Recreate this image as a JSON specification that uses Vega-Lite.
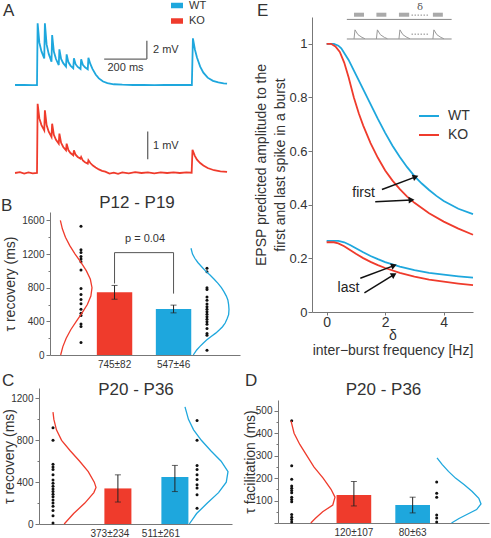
{
"$schema":"https://vega.github.io/schema/vega-lite/v6.json",
"width":491,"height":538,
"autosize":{"type":"none"},
"padding":0,
"config":{
 "view":{"stroke":null},
 "font":"Liberation Sans",
 "axis":{"grid":false,"domainColor":"#777","tickColor":"#777","labelColor":"#333","titleColor":"#333","titleFontWeight":"normal","labelFontSize":10,"titleFontSize":14,"tickSize":4,"labelPadding":2,"titlePadding":2},
 "text":{"color":"#333"},
 "legend":{"labelColor":"#333","title":null,"padding":0}
},
"resolve":{"scale":{"x":"independent","y":"independent","color":"independent"}},
"layer":[
 {"encoding":{"x":{"type":"quantitative","scale":{"domain":[0,1000],"range":[37,250.3],"nice":false,"zero":false},"axis":null},
              "y":{"type":"quantitative","scale":{"domain":[0,7],"range":[85,20.83],"nice":false,"zero":false},"axis":null}},
  "layer":[
   {"data":{"values":[{"t":-103,"v":0},{"t":-60,"v":0.02},{"t":-20,"v":-0.01},{"t":0,"v":0},{"t":3,"v":6.73},{"t":11,"v":4.62},{"t":21,"v":3.67},{"t":34,"v":2.9},{"t":37,"v":6.73},{"t":45,"v":4.43},{"t":55,"v":3.39},{"t":68,"v":2.55},{"t":71,"v":5.45},{"t":79,"v":3.65},{"t":89,"v":2.83},{"t":102,"v":2.18},{"t":105,"v":3.89},{"t":113,"v":2.85},{"t":123,"v":2.38},{"t":136,"v":2.0},{"t":139,"v":3.34},{"t":147,"v":2.5},{"t":157,"v":2.12},{"t":170,"v":1.82},{"t":173,"v":2.91},{"t":181,"v":2.27},{"t":191,"v":1.97},{"t":204,"v":1.74},{"t":207,"v":2.8},{"t":215,"v":2.2},{"t":225,"v":1.93},{"t":238,"v":1.71},{"t":241,"v":2.98},{"t":250,"v":2.3},{"t":260,"v":1.75},{"t":275,"v":1.15},{"t":290,"v":0.72},{"t":310,"v":0.38},{"t":330,"v":0.2},{"t":360,"v":0.08},{"t":400,"v":0.03},{"t":450,"v":0},{"t":500,"v":0.02},{"t":550,"v":-0.02},{"t":600,"v":0.01},{"t":650,"v":0},{"t":700,"v":0.02},{"t":726,"v":0},{"t":731,"v":5.09},{"t":740,"v":3.9},{"t":750,"v":3.0},{"t":765,"v":2.0},{"t":780,"v":1.35},{"t":800,"v":0.8},{"t":825,"v":0.45},{"t":850,"v":0.28},{"t":875,"v":0.18},{"t":891,"v":0.14}]},
    "mark":{"type":"line","strokeWidth":1.8},
    "encoding":{"x":{"field":"t"},"y":{"field":"v"},
     "color":{"datum":"WT","type":"nominal","scale":{"domain":["WT","KO"],"range":["#1EA7DD","#EF3B2C"]},"legend":{"orient":"none","legendX":168,"legendY":-2,"symbolType":"stroke","symbolSize":144,"symbolStrokeWidth":5.5,"labelFontSize":11,"rowPadding":0.5,"clipHeight":15,"labelOffset":3}}}},
   {"data":{"values":[{"bar":"200 ms"}]},"mark":{"type":"rule","color":"#666","strokeWidth":1.3},"encoding":{"x":{"datum":315},"x2":{"datum":515},"y":{"datum":2.83}}},
   {"data":{"values":[{"bar":"2 mV"}]},"mark":{"type":"rule","color":"#666","strokeWidth":1.3},"encoding":{"x":{"datum":515},"y":{"datum":2.83},"y2":{"datum":4.83}}},
   {"data":{"values":[{"lab":"2 mV"}]},"mark":{"type":"text","fontSize":11,"align":"left","baseline":"middle"},"encoding":{"x":{"datum":544},"y":{"datum":3.83},"text":{"field":"lab"}}},
   {"data":{"values":[{"lab":"200 ms"}]},"mark":{"type":"text","fontSize":11,"align":"center","baseline":"middle"},"encoding":{"x":{"datum":415},"y":{"datum":1.85},"text":{"field":"lab"}}},
   {"data":{"values":[{"lab":"A"}]},"mark":{"type":"text","fontSize":17,"align":"left","baseline":"middle"},"encoding":{"x":{"datum":-159},"y":{"datum":8.07},"text":{"field":"lab"}}}
  ]},
 {"encoding":{"x":{"type":"quantitative","scale":{"domain":[0,1000],"range":[37,250.3],"nice":false,"zero":false},"axis":null},
              "y":{"type":"quantitative","scale":{"domain":[0,1],"range":[173,145.3],"nice":false,"zero":false},"axis":null}},
  "layer":[
   {"data":{"values":[{"t":-103,"v":0},{"t":-80,"v":0.03},{"t":-60,"v":-0.02},{"t":-40,"v":0.02},{"t":-20,"v":-0.01},{"t":0,"v":0},{"t":3,"v":2.5},{"t":11,"v":1.97},{"t":21,"v":1.73},{"t":34,"v":1.54},{"t":37,"v":2.26},{"t":45,"v":1.73},{"t":55,"v":1.49},{"t":68,"v":1.3},{"t":71,"v":1.78},{"t":79,"v":1.38},{"t":89,"v":1.2},{"t":102,"v":1.06},{"t":105,"v":1.42},{"t":113,"v":1.09},{"t":123,"v":0.94},{"t":136,"v":0.82},{"t":139,"v":1.06},{"t":147,"v":0.83},{"t":157,"v":0.72},{"t":170,"v":0.64},{"t":173,"v":0.82},{"t":181,"v":0.66},{"t":191,"v":0.58},{"t":204,"v":0.52},{"t":207,"v":0.58},{"t":215,"v":0.45},{"t":225,"v":0.39},{"t":238,"v":0.34},{"t":241,"v":0.46},{"t":250,"v":0.36},{"t":262,"v":0.27},{"t":275,"v":0.2},{"t":290,"v":0.13},{"t":305,"v":0.08},{"t":320,"v":0.05},{"t":340,"v":-0.02},{"t":360,"v":0.01},{"t":380,"v":-0.03},{"t":400,"v":0.02},{"t":430,"v":-0.01},{"t":460,"v":0.03},{"t":490,"v":0},{"t":520,"v":0.02},{"t":550,"v":-0.01},{"t":580,"v":0.02},{"t":610,"v":0},{"t":640,"v":0.02},{"t":670,"v":0},{"t":700,"v":0.02},{"t":725,"v":0.01},{"t":729,"v":0.84},{"t":740,"v":0.62},{"t":750,"v":0.48},{"t":765,"v":0.36},{"t":780,"v":0.27},{"t":800,"v":0.18},{"t":830,"v":0.1},{"t":860,"v":0.06},{"t":891,"v":0.04}]},
    "mark":{"type":"line","strokeWidth":1.8},
    "encoding":{"x":{"field":"t"},"y":{"field":"v"},"color":{"datum":"KO","type":"nominal","scale":{"domain":["WT","KO"],"range":["#1EA7DD","#EF3B2C"]},"legend":null}}},
   {"data":{"values":[{"bar":"1 mV"}]},"mark":{"type":"rule","color":"#666","strokeWidth":1.3},"encoding":{"x":{"datum":519},"y":{"datum":0.5},"y2":{"datum":1.5}}},
   {"data":{"values":[{"lab":"1 mV"}]},"mark":{"type":"text","fontSize":11,"align":"left","baseline":"middle"},"encoding":{"x":{"datum":544},"y":{"datum":0.97},"text":{"field":"lab"}}}
  ]},

 {"data":{"values":[{"g":"KO","m":745,"lo":663,"hi":827,"lab":"745±82"},{"g":"WT","m":547,"lo":501,"hi":593,"lab":"547±46"}]},
  "encoding":{"x":{"field":"g","type":"nominal","scale":{"type":"band","domain":["KO","WT"],"range":[50,240],"paddingInner":0.4,"paddingOuter":0.81,"align":0.49},"axis":{"orient":"bottom","offset":-183,"title":null,"labels":false,"ticks":false}},
              "y":{"field":"m","type":"quantitative","title":"τ recovery (ms)","scale":{"domain":[0,1700],"range":[355,212],"nice":false},"axis":{"orient":"left","offset":-50,"format":"d","titlePadding":4,"values":[0,200,400,600,800,1000,1200,1400,1600],"labelExpr":"datum.value % 400 === 0 ? datum.label : ''","tickSize":{"condition":{"test":"datum.value % 400 === 0","value":4},"value":2}}}},
  "layer":[
   {"mark":{"type":"bar"},"encoding":{"color":{"condition":{"test":"datum.g === 'KO'","value":"#EF3B2C"},"value":"#1EA7DD"}}},
   {"mark":{"type":"rule","color":"#222","strokeWidth":1},"encoding":{"y":{"field":"lo","type":"quantitative","title":"τ recovery (ms)"},"y2":{"field":"hi"}}},
   {"mark":{"type":"tick","color":"#222","thickness":1,"size":6},"encoding":{"y":{"field":"lo","type":"quantitative","title":"τ recovery (ms)"}}},
   {"mark":{"type":"tick","color":"#222","thickness":1,"size":6},"encoding":{"y":{"field":"hi","type":"quantitative","title":"τ recovery (ms)"}}},
   {"mark":{"type":"text","fontSize":10,"baseline":"top","dy":5},"encoding":{"y":{"datum":0},"text":{"field":"lab"}}},
   {"data":{"values":[{"g":"KO","y":850,"o":1},{"g":"KO","y":1217,"o":2},{"g":"WT","y":1217,"o":3},{"g":"WT","y":730,"o":4}]},"mark":{"type":"line","color":"#555","strokeWidth":1},"encoding":{"y":{"field":"y","type":"quantitative","title":"τ recovery (ms)"},"order":{"field":"o"}}}
  ]},
 {"data":{"values":[{"g":"KO","tau":1530},{"g":"KO","tau":1250},{"g":"KO","tau":1220},{"g":"KO","tau":1170},{"g":"KO","tau":1140},{"g":"KO","tau":1110},{"g":"KO","tau":1010},{"g":"KO","tau":790},{"g":"KO","tau":720},{"g":"KO","tau":660},{"g":"KO","tau":610},{"g":"KO","tau":545},{"g":"KO","tau":495},{"g":"KO","tau":470},{"g":"KO","tau":370},{"g":"KO","tau":340},{"g":"KO","tau":150},{"g":"WT","tau":1030},{"g":"WT","tau":990},{"g":"WT","tau":800},{"g":"WT","tau":780},{"g":"WT","tau":690},{"g":"WT","tau":650},{"g":"WT","tau":605},{"g":"WT","tau":575},{"g":"WT","tau":545},{"g":"WT","tau":515},{"g":"WT","tau":485},{"g":"WT","tau":455},{"g":"WT","tau":425},{"g":"WT","tau":395},{"g":"WT","tau":365},{"g":"WT","tau":315},{"g":"WT","tau":255},{"g":"WT","tau":235},{"g":"WT","tau":55}]},
  "mark":{"type":"circle","size":9,"color":"#111","opacity":1},
  "encoding":{"x":{"field":"g","type":"nominal","scale":{"type":"point","domain":["KO","WT"],"range":[50,240],"padding":0.254,"align":0.484},"axis":null},
              "y":{"field":"tau","type":"quantitative","scale":{"domain":[0,1700],"range":[355,212],"nice":false},"axis":null}}},
 {"encoding":{"x":{"type":"quantitative","scale":{"domain":[0,1],"range":[58,92],"nice":false,"zero":false},"axis":null},
              "y":{"type":"quantitative","scale":{"domain":[0,1700],"range":[355,212],"nice":false},"axis":null}},
  "layer":[
   {"data":{"values":[{"tau":0,"d":0.078},{"tau":100,"d":0.143},{"tau":200,"d":0.241},{"tau":300,"d":0.375},{"tau":400,"d":0.538},{"tau":500,"d":0.709},{"tau":600,"d":0.863},{"tau":700,"d":0.967},{"tau":800,"d":1.0},{"tau":900,"d":0.952},{"tau":1000,"d":0.835},{"tau":1100,"d":0.676},{"tau":1200,"d":0.503},{"tau":1300,"d":0.346},{"tau":1400,"d":0.219},{"tau":1500,"d":0.128},{"tau":1600,"d":0.069}]},
    "mark":{"type":"line","color":"#EF3B2C","strokeWidth":1.3},"encoding":{"x":{"field":"d"},"y":{"field":"tau"},"order":{"field":"tau"}}},
   {"data":{"values":[{"lab":"B"}]},"mark":{"type":"text","fontSize":17,"align":"left","baseline":"middle"},"encoding":{"x":{"datum":-1.676},"y":{"datum":1772},"text":{"field":"lab"}}},
   {"data":{"values":[{"lab":"P12 - P19"}]},"mark":{"type":"text","fontSize":17,"align":"center","baseline":"middle"},"encoding":{"x":{"datum":2.324},"y":{"datum":1807},"text":{"field":"lab"}}},
   {"data":{"values":[{"lab":"p = 0.04"}]},"mark":{"type":"text","fontSize":11,"align":"center","baseline":"middle"},"encoding":{"x":{"datum":2.559},"y":{"datum":1376},"text":{"field":"lab"}}}
  ]},
 {"data":{"values":[{"tau":0,"d":0.06},{"tau":60,"d":0.15},{"tau":100,"d":0.23},{"tau":140,"d":0.32},{"tau":178,"d":0.41},{"tau":220,"d":0.53},{"tau":260,"d":0.65},{"tau":300,"d":0.75},{"tau":336,"d":0.83},{"tau":380,"d":0.9},{"tau":430,"d":0.95},{"tau":480,"d":0.99},{"tau":540,"d":1.0},{"tau":600,"d":0.99},{"tau":654,"d":0.97},{"tau":700,"d":0.93},{"tau":750,"d":0.87},{"tau":800,"d":0.8},{"tau":852,"d":0.71},{"tau":900,"d":0.61},{"tau":950,"d":0.5},{"tau":1000,"d":0.38},{"tau":1049,"d":0.28},{"tau":1100,"d":0.18},{"tau":1150,"d":0.1},{"tau":1200,"d":0.04},{"tau":1269,"d":0.0}]},
  "mark":{"type":"line","color":"#1EA7DD","strokeWidth":1.3},
  "encoding":{"x":{"field":"d","type":"quantitative","scale":{"domain":[0,1],"range":[191,229],"nice":false,"zero":false},"axis":null},
              "y":{"field":"tau","type":"quantitative","scale":{"domain":[0,1700],"range":[355,212],"nice":false},"axis":null},
              "order":{"field":"tau"}}},

 {"data":{"values":[{"g":"KO","m":340,"lo":210,"hi":470,"lab":"373±234"},{"g":"WT","m":450,"lo":310,"hi":560,"lab":"511±261"}]},
  "encoding":{"x":{"field":"g","type":"nominal","scale":{"type":"band","domain":["KO","WT"],"range":[39,232],"paddingInner":0.526,"paddingOuter":0.956,"align":0.6},"axis":{"orient":"bottom","offset":-14,"title":null,"labels":false,"ticks":false}},
              "y":{"field":"m","type":"quantitative","title":"τ recovery (ms)","scale":{"domain":[0,1300],"range":[524,388],"nice":false},"axis":{"orient":"left","offset":-39,"format":"d","titlePadding":-6,"values":[0,200,400,600,800,1000,1200],"labelExpr":"datum.value % 400 === 0 ? datum.label : ''","tickSize":{"condition":{"test":"datum.value % 400 === 0","value":4},"value":2}}}},
  "layer":[
   {"mark":{"type":"bar"},"encoding":{"color":{"condition":{"test":"datum.g === 'KO'","value":"#EF3B2C"},"value":"#1EA7DD"}}},
   {"mark":{"type":"rule","color":"#222","strokeWidth":1},"encoding":{"y":{"field":"lo","type":"quantitative","title":"τ recovery (ms)"},"y2":{"field":"hi"}}},
   {"mark":{"type":"tick","color":"#222","thickness":1,"size":6},"encoding":{"y":{"field":"lo","type":"quantitative","title":"τ recovery (ms)"}}},
   {"mark":{"type":"tick","color":"#222","thickness":1,"size":6},"encoding":{"y":{"field":"hi","type":"quantitative","title":"τ recovery (ms)"}}},
   {"transform":[{"filter":"datum.g === 'KO'"}],"mark":{"type":"text","fontSize":10,"baseline":"top","dy":5,"dx":-8},"encoding":{"y":{"datum":0},"text":{"field":"lab"}}},
   {"transform":[{"filter":"datum.g === 'WT'"}],"mark":{"type":"text","fontSize":10,"baseline":"top","dy":5,"dx":-14},"encoding":{"y":{"datum":0},"text":{"field":"lab"}}}
  ]},
 {"data":{"values":[{"g":"KO","tau":920},{"g":"KO","tau":800},{"g":"KO","tau":570},{"g":"KO","tau":545},{"g":"KO","tau":520},{"g":"KO","tau":470},{"g":"KO","tau":420},{"g":"KO","tau":390},{"g":"KO","tau":360},{"g":"KO","tau":335},{"g":"KO","tau":310},{"g":"KO","tau":285},{"g":"KO","tau":260},{"g":"KO","tau":230},{"g":"KO","tau":200},{"g":"KO","tau":170},{"g":"KO","tau":130},{"g":"KO","tau":80},{"g":"KO","tau":10},{"g":"WT","tau":990},{"g":"WT","tau":800},{"g":"WT","tau":560},{"g":"WT","tau":520},{"g":"WT","tau":470},{"g":"WT","tau":425},{"g":"WT","tau":375},{"g":"WT","tau":345},{"g":"WT","tau":280},{"g":"WT","tau":150}]},
  "mark":{"type":"circle","size":9,"color":"#111","opacity":1},
  "encoding":{"x":{"field":"g","type":"nominal","scale":{"type":"point","domain":["KO","WT"],"range":[39,232],"padding":0.17,"align":0.286},"axis":null},
              "y":{"field":"tau","type":"quantitative","scale":{"domain":[0,1300],"range":[524,388],"nice":false},"axis":null}}},
 {"encoding":{"x":{"type":"quantitative","scale":{"domain":[0,1],"range":[53,96],"nice":false,"zero":false},"axis":null},
              "y":{"type":"quantitative","scale":{"domain":[0,1300],"range":[524,388],"nice":false},"axis":null}},
  "layer":[
   {"data":{"values":[{"tau":0,"d":0.26},{"tau":100,"d":0.48},{"tau":200,"d":0.74},{"tau":300,"d":0.95},{"tau":350,"d":1.0},{"tau":400,"d":0.96},{"tau":500,"d":0.82},{"tau":600,"d":0.62},{"tau":700,"d":0.4},{"tau":800,"d":0.2},{"tau":900,"d":0.08},{"tau":1000,"d":0.02},{"tau":1070,"d":0.0}]},
    "mark":{"type":"line","color":"#EF3B2C","strokeWidth":1.3},"encoding":{"x":{"field":"d"},"y":{"field":"tau"},"order":{"field":"tau"}}},
   {"data":{"values":[{"lab":"C"}]},"mark":{"type":"text","fontSize":17,"align":"left","baseline":"middle"},"encoding":{"x":{"datum":-1.186},"y":{"datum":1367},"text":{"field":"lab"}}},
   {"data":{"values":[{"lab":"P20 - P36"}]},"mark":{"type":"text","fontSize":17,"align":"center","baseline":"middle"},"encoding":{"x":{"datum":1.93},"y":{"datum":1281},"text":{"field":"lab"}}}
  ]},
 {"data":{"values":[{"tau":0,"d":0.1},{"tau":100,"d":0.27},{"tau":200,"d":0.52},{"tau":300,"d":0.78},{"tau":400,"d":0.96},{"tau":500,"d":1.0},{"tau":600,"d":0.84},{"tau":700,"d":0.6},{"tau":800,"d":0.38},{"tau":900,"d":0.2},{"tau":1000,"d":0.08},{"tau":1120,"d":0.0}]},
  "mark":{"type":"line","color":"#1EA7DD","strokeWidth":1.3},
  "encoding":{"x":{"field":"d","type":"quantitative","scale":{"domain":[0,1],"range":[185,228],"nice":false,"zero":false},"axis":null},
              "y":{"field":"tau","type":"quantitative","scale":{"domain":[0,1300],"range":[524,388],"nice":false},"axis":null},
              "order":{"field":"tau"}}},

 {"data":{"values":[{"g":"KO","m":125,"lo":76,"hi":185,"lab":"120±107"},{"g":"WT","m":80,"lo":45,"hi":115,"lab":"80±63"}]},
  "encoding":{"x":{"field":"g","type":"nominal","scale":{"type":"band","domain":["KO","WT"],"range":[278,489],"paddingInner":0.41,"paddingOuter":1.2145,"align":0.498},"axis":{"orient":"bottom","offset":-15,"title":null,"labels":false,"ticks":false}},
              "y":{"field":"m","type":"quantitative","title":"τ facilitation (ms)","scale":{"domain":[0,548],"range":[523,400],"nice":false},"axis":{"orient":"left","offset":-278,"format":"d","titlePadding":-2,"values":[0,50,100,150,200,250,300,350,400,450,500],"labelExpr":"datum.value % 100 === 0 && datum.value > 0 ? datum.label : ''","tickSize":{"condition":{"test":"datum.value % 100 === 0","value":4},"value":2}}}},
  "layer":[
   {"mark":{"type":"bar"},"encoding":{"color":{"condition":{"test":"datum.g === 'KO'","value":"#EF3B2C"},"value":"#1EA7DD"}}},
   {"mark":{"type":"rule","color":"#222","strokeWidth":1},"encoding":{"y":{"field":"lo","type":"quantitative","title":"τ facilitation (ms)"},"y2":{"field":"hi"}}},
   {"mark":{"type":"tick","color":"#222","thickness":1,"size":6},"encoding":{"y":{"field":"lo","type":"quantitative","title":"τ facilitation (ms)"}}},
   {"mark":{"type":"tick","color":"#222","thickness":1,"size":6},"encoding":{"y":{"field":"hi","type":"quantitative","title":"τ facilitation (ms)"}}},
   {"mark":{"type":"text","fontSize":10,"baseline":"top","dy":5},"encoding":{"y":{"datum":0},"text":{"field":"lab"}}}
  ]},
 {"data":{"values":[{"g":"KO","tau":455},{"g":"KO","tau":255},{"g":"KO","tau":195},{"g":"KO","tau":165},{"g":"KO","tau":155},{"g":"KO","tau":145},{"g":"KO","tau":135},{"g":"KO","tau":115},{"g":"KO","tau":105},{"g":"KO","tau":95},{"g":"KO","tau":38},{"g":"KO","tau":26},{"g":"KO","tau":16},{"g":"KO","tau":5},{"g":"WT","tau":183},{"g":"WT","tau":133},{"g":"WT","tau":115},{"g":"WT","tau":36},{"g":"WT","tau":22},{"g":"WT","tau":5}]},
  "mark":{"type":"circle","size":9,"color":"#111","opacity":1},
  "encoding":{"x":{"field":"g","type":"nominal","scale":{"type":"point","domain":["KO","WT"],"range":[278,489],"padding":0.2276,"align":0.2076},"axis":null},
              "y":{"field":"tau","type":"quantitative","scale":{"domain":[0,548],"range":[523,400],"nice":false},"axis":null}}},
 {"encoding":{"x":{"type":"quantitative","scale":{"domain":[0,1],"range":[291,335],"nice":false,"zero":false},"axis":null},
              "y":{"type":"quantitative","scale":{"domain":[0,548],"range":[523,400],"nice":false},"axis":null}},
  "layer":[
   {"data":{"values":[{"tau":0,"d":0.45},{"tau":20,"d":0.55},{"tau":50,"d":0.72},{"tau":80,"d":0.95},{"tau":115,"d":1.0},{"tau":150,"d":0.91},{"tau":200,"d":0.73},{"tau":250,"d":0.52},{"tau":300,"d":0.36},{"tau":350,"d":0.2},{"tau":400,"d":0.07},{"tau":455,"d":0.0}]},
    "mark":{"type":"line","color":"#EF3B2C","strokeWidth":1.3},"encoding":{"x":{"field":"d"},"y":{"field":"tau"},"order":{"field":"tau"}}},
   {"data":{"values":[{"lab":"D"}]},"mark":{"type":"text","fontSize":17,"align":"left","baseline":"middle"},"encoding":{"x":{"datum":-1.045},"y":{"datum":633},"text":{"field":"lab"}}},
   {"data":{"values":[{"lab":"P20 - P36"}]},"mark":{"type":"text","fontSize":17,"align":"center","baseline":"middle"},"encoding":{"x":{"datum":2.102},"y":{"datum":593},"text":{"field":"lab"}}}
  ]},
 {"data":{"values":[{"tau":0,"d":0.33},{"tau":20,"d":0.5},{"tau":40,"d":0.7},{"tau":60,"d":0.9},{"tau":85,"d":1.0},{"tau":110,"d":0.95},{"tau":140,"d":0.8},{"tau":170,"d":0.62},{"tau":200,"d":0.42},{"tau":230,"d":0.26},{"tau":260,"d":0.12},{"tau":290,"d":0.0}]},
  "mark":{"type":"line","color":"#1EA7DD","strokeWidth":1.3},
  "encoding":{"x":{"field":"d","type":"quantitative","scale":{"domain":[0,1],"range":[437,481],"nice":false,"zero":false},"axis":null},
              "y":{"field":"tau","type":"quantitative","scale":{"domain":[0,548],"range":[523,400],"nice":false},"axis":null},
              "order":{"field":"tau"}}},

 {"encoding":{"x":{"type":"quantitative","scale":{"domain":[-0.5,5],"range":[312,473],"nice":false,"zero":false}},
              "y":{"type":"quantitative","scale":{"domain":[0,1.1],"range":[312,17],"nice":false,"zero":false}}},
  "layer":[
   {"data":{"values":[
     {"geno":"WT","which":"first","f":0,"a":1},{"geno":"WT","which":"first","f":0.25,"a":1},{"geno":"WT","which":"first","f":0.4,"a":0.993},{"geno":"WT","which":"first","f":0.5,"a":0.983},{"geno":"WT","which":"first","f":0.75,"a":0.94},{"geno":"WT","which":"first","f":1.0,"a":0.885},{"geno":"WT","which":"first","f":1.25,"a":0.83},{"geno":"WT","which":"first","f":1.5,"a":0.775},{"geno":"WT","which":"first","f":1.75,"a":0.72},{"geno":"WT","which":"first","f":2.0,"a":0.668},{"geno":"WT","which":"first","f":2.25,"a":0.62},{"geno":"WT","which":"first","f":2.5,"a":0.578},{"geno":"WT","which":"first","f":2.75,"a":0.54},{"geno":"WT","which":"first","f":3.0,"a":0.507},{"geno":"WT","which":"first","f":3.25,"a":0.479},{"geno":"WT","which":"first","f":3.5,"a":0.455},{"geno":"WT","which":"first","f":3.75,"a":0.433},{"geno":"WT","which":"first","f":4.0,"a":0.414},{"geno":"WT","which":"first","f":4.5,"a":0.385},{"geno":"WT","which":"first","f":5.0,"a":0.365},
     {"geno":"KO","which":"first","f":0,"a":1},{"geno":"KO","which":"first","f":0.15,"a":1},{"geno":"KO","which":"first","f":0.3,"a":0.99},{"geno":"KO","which":"first","f":0.45,"a":0.97},{"geno":"KO","which":"first","f":0.6,"a":0.93},{"geno":"KO","which":"first","f":0.75,"a":0.875},{"geno":"KO","which":"first","f":0.93,"a":0.8},{"geno":"KO","which":"first","f":1.1,"a":0.74},{"geno":"KO","which":"first","f":1.25,"a":0.695},{"geno":"KO","which":"first","f":1.5,"a":0.63},{"geno":"KO","which":"first","f":1.75,"a":0.575},{"geno":"KO","which":"first","f":2.0,"a":0.528},{"geno":"KO","which":"first","f":2.25,"a":0.49},{"geno":"KO","which":"first","f":2.5,"a":0.458},{"geno":"KO","which":"first","f":2.75,"a":0.43},{"geno":"KO","which":"first","f":3.0,"a":0.407},{"geno":"KO","which":"first","f":3.5,"a":0.368},{"geno":"KO","which":"first","f":4.0,"a":0.337},{"geno":"KO","which":"first","f":4.5,"a":0.311},{"geno":"KO","which":"first","f":5.0,"a":0.288},
     {"geno":"WT","which":"last","f":0,"a":0.265},{"geno":"WT","which":"last","f":0.4,"a":0.265},{"geno":"WT","which":"last","f":0.6,"a":0.26},{"geno":"WT","which":"last","f":0.8,"a":0.25},{"geno":"WT","which":"last","f":1.0,"a":0.238},{"geno":"WT","which":"last","f":1.25,"a":0.223},{"geno":"WT","which":"last","f":1.5,"a":0.209},{"geno":"WT","which":"last","f":1.75,"a":0.197},{"geno":"WT","which":"last","f":2.0,"a":0.186},{"geno":"WT","which":"last","f":2.5,"a":0.169},{"geno":"WT","which":"last","f":3.0,"a":0.156},{"geno":"WT","which":"last","f":3.5,"a":0.146},{"geno":"WT","which":"last","f":4.0,"a":0.139},{"geno":"WT","which":"last","f":4.5,"a":0.133},{"geno":"WT","which":"last","f":5.0,"a":0.128},
     {"geno":"KO","which":"last","f":0,"a":0.26},{"geno":"KO","which":"last","f":0.25,"a":0.26},{"geno":"KO","which":"last","f":0.4,"a":0.256},{"geno":"KO","which":"last","f":0.6,"a":0.245},{"geno":"KO","which":"last","f":0.8,"a":0.231},{"geno":"KO","which":"last","f":1.0,"a":0.217},{"geno":"KO","which":"last","f":1.25,"a":0.201},{"geno":"KO","which":"last","f":1.5,"a":0.187},{"geno":"KO","which":"last","f":1.75,"a":0.175},{"geno":"KO","which":"last","f":2.0,"a":0.164},{"geno":"KO","which":"last","f":2.5,"a":0.146},{"geno":"KO","which":"last","f":3.0,"a":0.132},{"geno":"KO","which":"last","f":3.5,"a":0.121},{"geno":"KO","which":"last","f":4.0,"a":0.113},{"geno":"KO","which":"last","f":4.5,"a":0.106},{"geno":"KO","which":"last","f":5.0,"a":0.1}]},
    "mark":{"type":"line","strokeWidth":1.8},
    "encoding":{
     "x":{"field":"f","type":"quantitative","axis":{"orient":"bottom","offset":-226,"values":[0,2,4],"format":"d","labelFontSize":14,"tickSize":3,"labelPadding":0,"title":["δ","inter−burst frequency [Hz]"],"titleFontSize":14,"titleLineHeight":15,"titlePadding":-1}},
     "y":{"field":"a","type":"quantitative","axis":{"orient":"left","offset":-312,"values":[0,0.2,0.4,0.6,0.8,1],"format":"~g","labelFontSize":13,"labelPadding":1,"title":["EPSP predicted amplitude to the","first and last spike in a burst"],"titleFontSize":14,"titleLineHeight":19,"titlePadding":1}},
     "color":{"field":"geno","type":"nominal","scale":{"domain":["WT","KO"],"range":["#1EA7DD","#EF3B2C"]},"legend":{"orient":"none","legendX":418,"legendY":108,"symbolType":"stroke","symbolSize":400,"symbolStrokeWidth":2,"labelFontSize":14,"rowPadding":3,"clipHeight":16,"labelOffset":8}},
     "detail":{"field":"which"}}},
   {"data":{"values":[{"x":1.89,"y":0.457,"x2":3.04,"y2":0.504},{"x":1.66,"y":0.411,"x2":2.9,"y2":0.418},{"x":1.15,"y":0.126,"x2":2.3,"y2":0.173},{"x":1.29,"y":0.071,"x2":2.3,"y2":0.139}]},
    "mark":{"type":"rule","color":"#111","strokeWidth":1.5},
    "encoding":{"x":{"field":"x","type":"quantitative"},"y":{"field":"y","type":"quantitative"},"x2":{"field":"x2"},"y2":{"field":"y2"}}},
   {"data":{"values":[{"h":1}]},"mark":{"type":"point","shape":"triangle-right","filled":true,"color":"#111","opacity":1,"size":45,"angle":339.5},"encoding":{"x":{"datum":3.04},"y":{"datum":0.504}}},
   {"data":{"values":[{"h":2}]},"mark":{"type":"point","shape":"triangle-right","filled":true,"color":"#111","opacity":1,"size":45,"angle":357},"encoding":{"x":{"datum":2.9},"y":{"datum":0.418}}},
   {"data":{"values":[{"h":3}]},"mark":{"type":"point","shape":"triangle-right","filled":true,"color":"#111","opacity":1,"size":45,"angle":339.5},"encoding":{"x":{"datum":2.3},"y":{"datum":0.173}}},
   {"data":{"values":[{"h":4}]},"mark":{"type":"point","shape":"triangle-right","filled":true,"color":"#111","opacity":1,"size":45,"angle":328.6},"encoding":{"x":{"datum":2.3},"y":{"datum":0.139}}},
   {"data":{"values":[{"lab":"first","f":1.26,"a":0.442},{"lab":"last","f":0.745,"a":0.088}]},
    "mark":{"type":"text","fontSize":14,"color":"#222"},
    "encoding":{"x":{"field":"f","type":"quantitative"},"y":{"field":"a","type":"quantitative"},"text":{"field":"lab"}}},
   {"data":{"values":[{"x":0.69,"x2":4.27,"y":1.091},{"x":0.69,"x2":4.27,"y":1.018}]},
    "mark":{"type":"rule","color":"#888","strokeWidth":1},
    "encoding":{"x":{"field":"x","type":"quantitative"},"x2":{"field":"x2"},"y":{"field":"y","type":"quantitative"}}},
   {"data":{"values":[{"x":0.935,"x2":1.276},{"x":1.7,"x2":2.04},{"x":2.47,"x2":2.82},{"x":3.63,"x2":3.97}]},
    "mark":{"type":"rect","color":"#aaa"},
    "encoding":{"x":{"field":"x","type":"quantitative"},"x2":{"field":"x2"},"y":{"datum":1.101},"y2":{"datum":1.116}}},
   {"data":{"values":[{"x":2.9,"x2":3.47,"y":1.107},{"x":2.9,"x2":3.47,"y":1.036}]},
    "mark":{"type":"rule","color":"#888","strokeWidth":1,"strokeDash":[1.5,1.5]},
    "encoding":{"x":{"field":"x","type":"quantitative"},"x2":{"field":"x2"},"y":{"field":"y","type":"quantitative"}}},
   {"data":{"values":[{"lab":"δ"}]},"mark":{"type":"text","fontSize":10,"color":"#555","font":"DejaVu Serif"},"encoding":{"x":{"datum":3.19},"y":{"datum":1.137},"text":{"field":"lab"}}},
   {"data":{"values":[{"k":1,"x":0.935,"y":1.018},{"k":1,"x":0.969,"y":1.052},{"k":1,"x":1.071,"y":1.034},{"k":1,"x":1.208,"y":1.024},{"k":1,"x":1.31,"y":1.019},{"k":2,"x":1.7,"y":1.018},{"k":2,"x":1.734,"y":1.052},{"k":2,"x":1.836,"y":1.034},{"k":2,"x":1.973,"y":1.024},{"k":2,"x":2.075,"y":1.019},{"k":3,"x":2.47,"y":1.018},{"k":3,"x":2.504,"y":1.052},{"k":3,"x":2.606,"y":1.034},{"k":3,"x":2.743,"y":1.024},{"k":3,"x":2.845,"y":1.019},{"k":4,"x":3.63,"y":1.018},{"k":4,"x":3.664,"y":1.052},{"k":4,"x":3.766,"y":1.034},{"k":4,"x":3.903,"y":1.024},{"k":4,"x":4.005,"y":1.019}]},
    "mark":{"type":"line","color":"#999","strokeWidth":1},
    "encoding":{"x":{"field":"x","type":"quantitative"},"y":{"field":"y","type":"quantitative"},"detail":{"field":"k"}}},
   {"data":{"values":[{"lab":"E"}]},"mark":{"type":"text","fontSize":17,"align":"left","baseline":"middle"},"encoding":{"x":{"datum":-2.38},"y":{"datum":1.122},"text":{"field":"lab"}}}
  ]}
]
}
